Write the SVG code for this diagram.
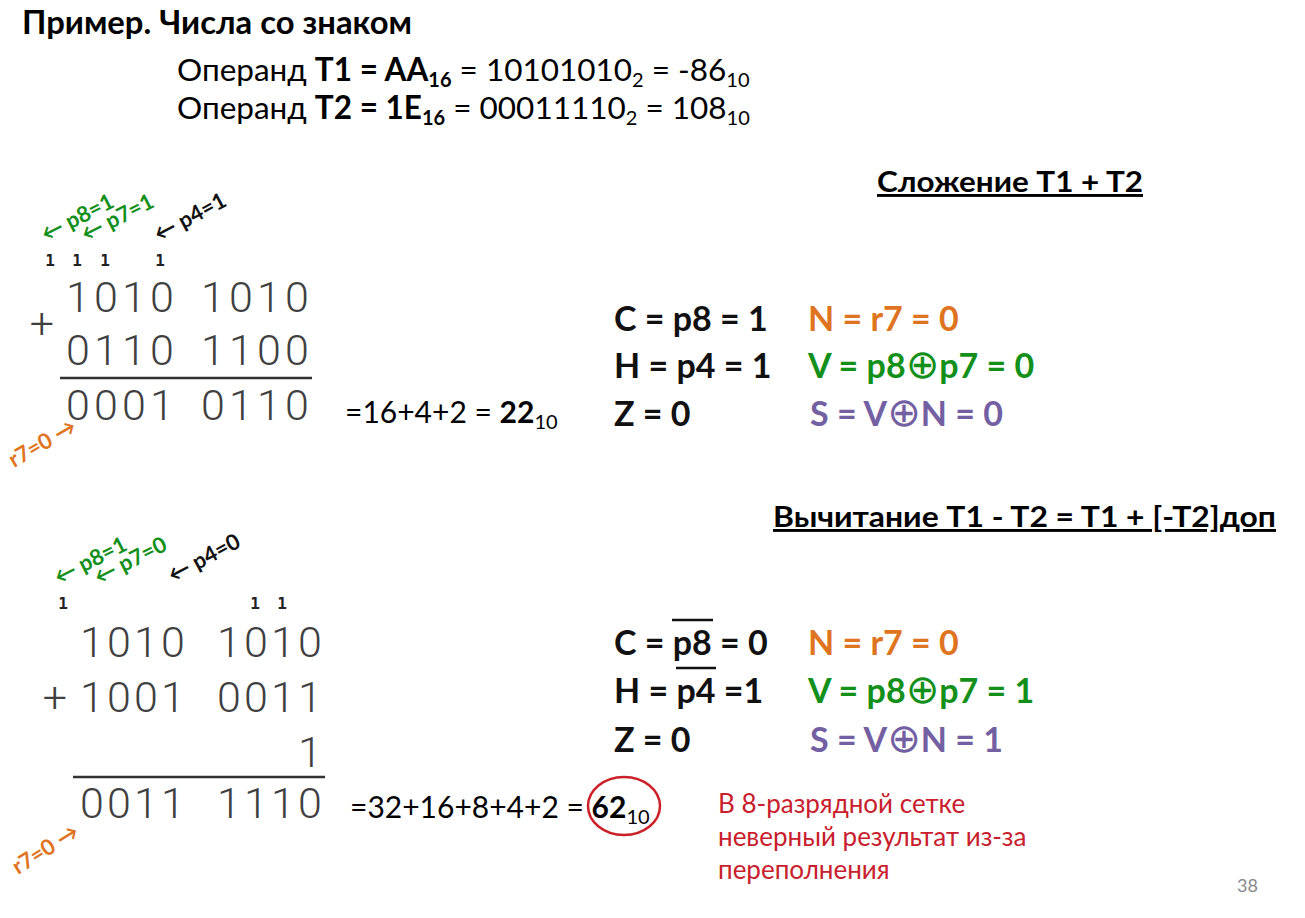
<svg xmlns="http://www.w3.org/2000/svg" width="1305" height="918" viewBox="0 0 1305 918">
<style>
.t{font-family:Lato,"Open Sans","DejaVu Sans",sans-serif;fill:#000}
.b{font-weight:bold}
.dg{font-family:Roboto,"DejaVu Sans",sans-serif;font-weight:300;font-size:43px;fill:#404040;text-anchor:middle}
.cy{font-family:"DejaVu Sans Mono","Liberation Mono",monospace;font-weight:bold;font-size:16px;fill:#222;text-anchor:middle}
.lb{font-family:Lato,"DejaVu Sans",sans-serif;font-weight:bold;font-size:22px}
.fl{font-family:Lato,"DejaVu Sans",sans-serif;font-weight:bold;font-size:34px}
.ox{font-family:"DejaVu Sans",sans-serif;font-weight:normal;font-size:40px}
.grn{fill:#12901a}.org{fill:#df7420}.pur{fill:#7360a2}.blk{fill:#111}
.red{font-family:Lato,"Open Sans",sans-serif;font-size:26px;fill:#c8202c}
.ov{stroke:#111;stroke-width:2.5}
</style>
<rect width="1305" height="918" fill="#fff"/>
<g id="header">
<text class="t b" x="22" y="34" font-size="33" textLength="390" lengthAdjust="spacingAndGlyphs">Пример. Числа со знаком</text>
<text class="t" x="177" y="81" font-size="31.5">Операнд <tspan class="b">T1 = AA<tspan font-size="20" dy="6">16</tspan></tspan><tspan dy="-6"> = 10101010</tspan><tspan font-size="20" dy="6">2</tspan><tspan dy="-6"> = -86</tspan><tspan font-size="20" dy="6">10</tspan></text>
<text class="t" x="177" y="119" font-size="31.5">Операнд <tspan class="b">T2 = 1E<tspan font-size="20" dy="6">16</tspan></tspan><tspan dy="-6">  = 00011110</tspan><tspan font-size="20" dy="6">2</tspan><tspan dy="-6"> = 108</tspan><tspan font-size="20" dy="6">10</tspan></text>
</g>
<g id="addition">
<text class="t b" x="877" y="192" font-size="29" textLength="266" lengthAdjust="spacingAndGlyphs" text-decoration="underline">Сложение T1 + T2</text>
<text class="lb grn" transform="translate(46,242) rotate(-27)">← p8=1</text>
<text class="lb grn" transform="translate(86,242) rotate(-27)">← p7=1</text>
<text class="lb blk" transform="translate(159,242) rotate(-28)">← p4=1</text>
<text class="cy" x="50 77 105 160" y="266">1111</text>
<text class="dg" x="42" y="338">+</text>
<text class="dg" x="78 106 134 162 213 241 269 297" y="312">10101010</text>
<text class="dg" x="78 106 134 162 213 241 269 297" y="365">01101100</text>
<line x1="60" y1="378" x2="312" y2="378" stroke="#333" stroke-width="2.5"/>
<text class="dg" x="78 106 134 162 213 241 269 297" y="420">00010110</text>
<text class="lb org" font-size="19" transform="translate(14,468) rotate(-30)">r7=0 →</text>
<text class="t" x="345" y="423" font-size="30">=16+4+2 = <tspan class="b">22</tspan><tspan font-size="20" dy="6">10</tspan></text>
<text class="fl blk" x="614" y="331">C = p8 = 1</text>
<text class="fl blk" x="614" y="378">H = p4 = 1</text>
<text class="fl blk" x="614" y="426">Z = 0</text>
<text class="fl org" x="808" y="331">N = r7 = 0</text>
<text class="fl grn" x="808" y="378">V = p8<tspan class="ox">⊕</tspan>p7 = 0</text>
<text class="fl pur" x="810" y="426">S = V<tspan class="ox">⊕</tspan>N = 0</text>
</g>
<g id="subtraction">
<text class="t b" x="773" y="527" font-size="29" textLength="503" lengthAdjust="spacingAndGlyphs" text-decoration="underline">Вычитание T1 - T2 = T1 + [-T2]доп</text>
<text class="lb grn" transform="translate(59,585) rotate(-27)">← p8=1</text>
<text class="lb grn" transform="translate(99,585) rotate(-27)">← p7=0</text>
<text class="lb blk" transform="translate(173,583) rotate(-28)">← p4=0</text>
<text class="cy" x="63 255 282" y="609">111</text>
<text class="dg" x="92 119 146 173 229 256 283 310" y="657">10101010</text>
<text class="dg" x="55" y="712">+</text>
<text class="dg" x="92 119 146 173 229 256 283 310" y="712">10010011</text>
<text class="dg" x="310" y="767">1</text>
<line x1="73" y1="777" x2="325" y2="777" stroke="#333" stroke-width="2.5"/>
<text class="dg" x="92 119 146 173 229 256 283 310" y="818">00111110</text>
<text class="lb org" transform="translate(18,875) rotate(-32)">r7=0 →</text>
<text class="t" x="350" y="818" font-size="30">=32+16+8+4+2 = <tspan class="b">62</tspan><tspan font-size="20" dy="6">10</tspan></text>
<ellipse cx="624" cy="806" rx="36" ry="29" fill="none" stroke="#cc2028" stroke-width="2.5"/>
<text class="fl blk" x="614" y="655">C = p8 = 0</text>
<line class="ov" x1="672" y1="620" x2="713" y2="620"/>
<text class="fl blk" x="614" y="703">H = p4 =1</text>
<line class="ov" x1="676" y1="668" x2="716" y2="668"/>
<text class="fl blk" x="614" y="752">Z = 0</text>
<text class="fl org" x="808" y="655">N = r7 = 0</text>
<text class="fl grn" x="808" y="703">V = p8<tspan class="ox">⊕</tspan>p7 = 1</text>
<text class="fl pur" x="810" y="752">S = V<tspan class="ox">⊕</tspan>N = 1</text>
<text class="red" x="718" y="813">В 8-разрядной сетке</text>
<text class="red" x="718" y="846">неверный результат из-за</text>
<text class="red" x="718" y="879">переполнения</text>
</g>
<text x="1237" y="892" font-family="Lato,sans-serif" font-size="18" fill="#888">38</text>
</svg>
